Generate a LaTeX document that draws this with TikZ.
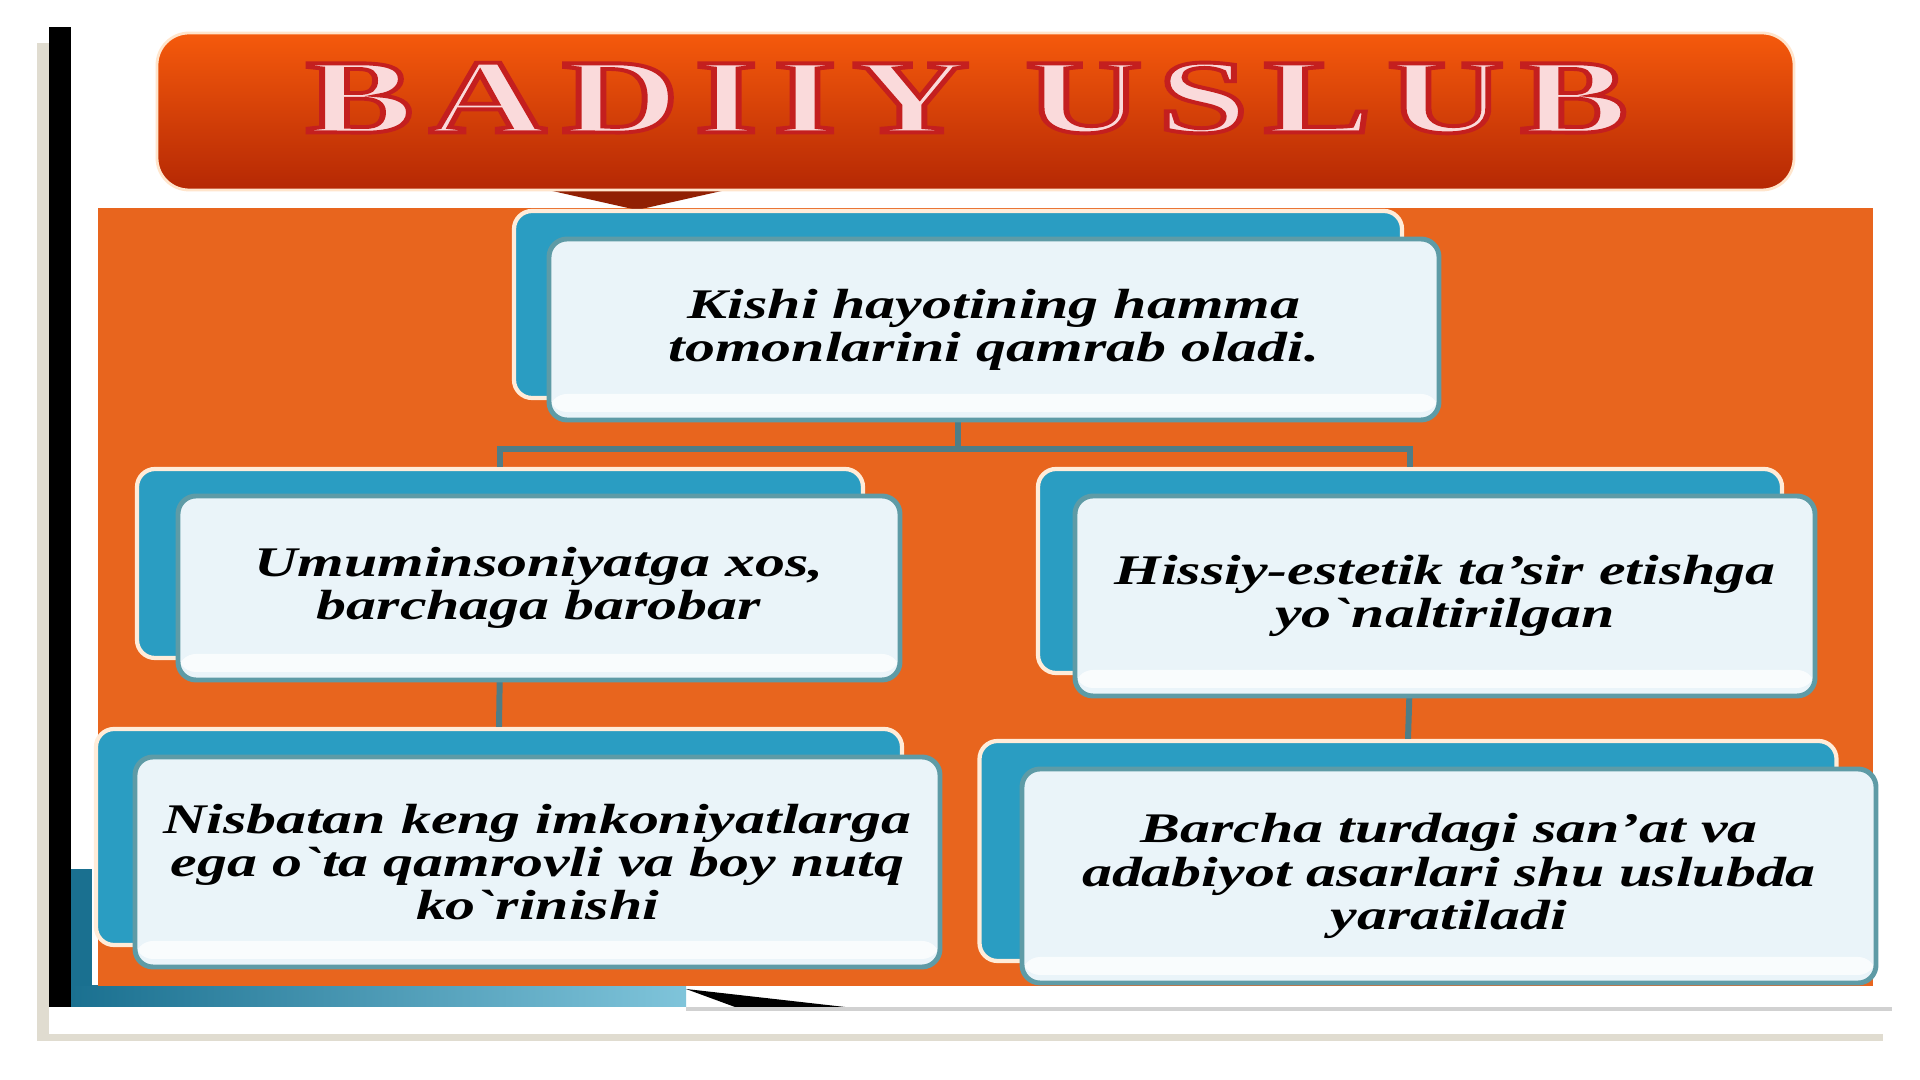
\documentclass[tikz,border=0pt]{standalone}
\usepackage{fontspec}
\setmainfont{Liberation Serif}
\newfontfamily\boxfont[FakeStretch=1.42]{Liberation Serif}
\newfontfamily\titlefont[LetterSpace=10]{Liberation Serif}
\usepackage{tikz}
\usetikzlibrary{positioning}
\usetikzlibrary{calc}

\definecolor{panelorange}{HTML}{E8651E}
\definecolor{bannertop}{HTML}{F55A0C}
\definecolor{bannerbottom}{HTML}{B52804}
\definecolor{boxteal}{HTML}{2A9DC2}
\definecolor{boxfill}{HTML}{EAF4F9}
\definecolor{boxedge}{HTML}{5E9BA6}
\definecolor{linkcolor}{HTML}{4F7D86}
\definecolor{titlepink}{HTML}{FADADB}
\definecolor{frameside}{HTML}{E0DCD0}
\definecolor{darkteal}{HTML}{1A7090}

\newcommand\backq{\char"0060\relax}
\newcommand\outlined[1]{\special{pdf:code 2 Tr 1.1 w 0.77 0.12 0.12 RG}#1\special{pdf:code 0 Tr}}

\tikzset{
  backbox/.style={draw=white!85!orange, line width=1.2pt, fill=boxteal, rounded corners=0.18cm},
  frontbox/.style={draw=boxedge, line width=1.4pt, fill=boxfill, rounded corners=0.18cm,
    align=center, font=\boxfont\bfseries\itshape\fontsize{12}{12.3}\selectfont,
    path picture={\fill[white, opacity=0.75]
      ([yshift=0.08cm]path picture bounding box.south west) rectangle
      ([yshift=0.26cm]path picture bounding box.south east);}},
  link/.style={draw=linkcolor, line width=1.7pt},
}

\begin{document}
\begin{tikzpicture}
\useasboundingbox[fill=white] (0,0) rectangle (19.2,10.8);
% frame
\fill[frameside] (0.37,0.39) rectangle (0.49,10.37);
\fill[frameside] (0.37,0.39) rectangle (18.83,0.46);
\fill[black] (0.49,0.73) rectangle (0.71,10.53);
\fill[black!18] (6.86,0.69) rectangle (18.92,0.73);
\shade[left color=darkteal, right color=boxteal!60!white] (0.71,0.73) rectangle (6.86,0.94);
\fill[black] (6.86,0.91) -- (8.45,0.73) -- (7.35,0.73) -- cycle;
\fill[panelorange] (0.98,0.94) rectangle (18.73,8.72);
\fill[darkteal] (0.71,0.94) rectangle (0.92,2.11);

% banner
\fill[bannerbottom!80!black] (5.39,8.92) -- (6.37,8.70) -- (7.35,8.92) -- cycle;
\shade[top color=bannertop, bottom color=bannerbottom, rounded corners=0.32cm,
  draw=orange!20, line width=0.8pt] (1.57,8.90) rectangle (17.94,10.47);

% boxes
\node[backbox, minimum width=8.88cm, minimum height=1.87cm] (topback) at (9.58,7.755) {};
\node[backbox, minimum width=7.26cm, minimum height=1.89cm] (leftback) at (5.00,5.165) {};
\node[backbox, minimum width=7.44cm, minimum height=2.04cm] (rightback) at (14.10,5.09) {};
\node[backbox, minimum width=8.06cm, minimum height=2.16cm] (lowleftback) at (4.99,2.43) {};
\node[backbox, minimum width=8.57cm, minimum height=2.20cm] (lowrightback) at (14.08,2.29) {};

\coordinate (fork) at (9.58,6.31);
\draw[link] (topback.south) -- (fork);
\draw[link] (leftback.north) |- (fork) -| (rightback.north);
\draw[link] (leftback.south) -- (lowleftback.north);
\draw[link] (rightback.south) -- (lowrightback.north);

\node[frontbox, minimum width=8.90cm, minimum height=1.81cm] (top)
  at ([shift={(0.36,-0.25)}]topback.center) {Kishi hayotining hamma\\tomonlarini qamrab oladi.};
\node[frontbox, minimum width=7.22cm, minimum height=1.84cm] (left)
  at ([shift={(0.39,-0.245)}]leftback.center) {Umuminsoniyatga xos,\\barchaga barobar};
\node[frontbox, minimum width=7.40cm, minimum height=2.00cm] (right)
  at ([shift={(0.35,-0.25)}]rightback.center) {Hissiy-estetik ta’sir etishga\\yo\backq naltirilgan};
\node[frontbox, minimum width=8.05cm, minimum height=2.10cm] (lowleft)
  at ([shift={(0.385,-0.25)}]lowleftback.center) {Nisbatan keng imkoniyatlarga\\ega o\backq ta qamrovli va boy nutq\\ko\backq rinishi};
\node[frontbox, minimum width=8.54cm, minimum height=2.14cm] (lowright)
  at ([shift={(0.41,-0.25)}]lowrightback.center) {Barcha turdagi san’at va\\adabiyot asarlari shu uslubda\\yaratiladi};

% title
\node[font=\titlefont\bfseries\fontsize{30}{30}\selectfont, text=titlepink,
  xscale=1.53, transform shape] (title) at (9.67,9.82) {\outlined{BADIIY USLUB}};
\end{tikzpicture}
\end{document}
